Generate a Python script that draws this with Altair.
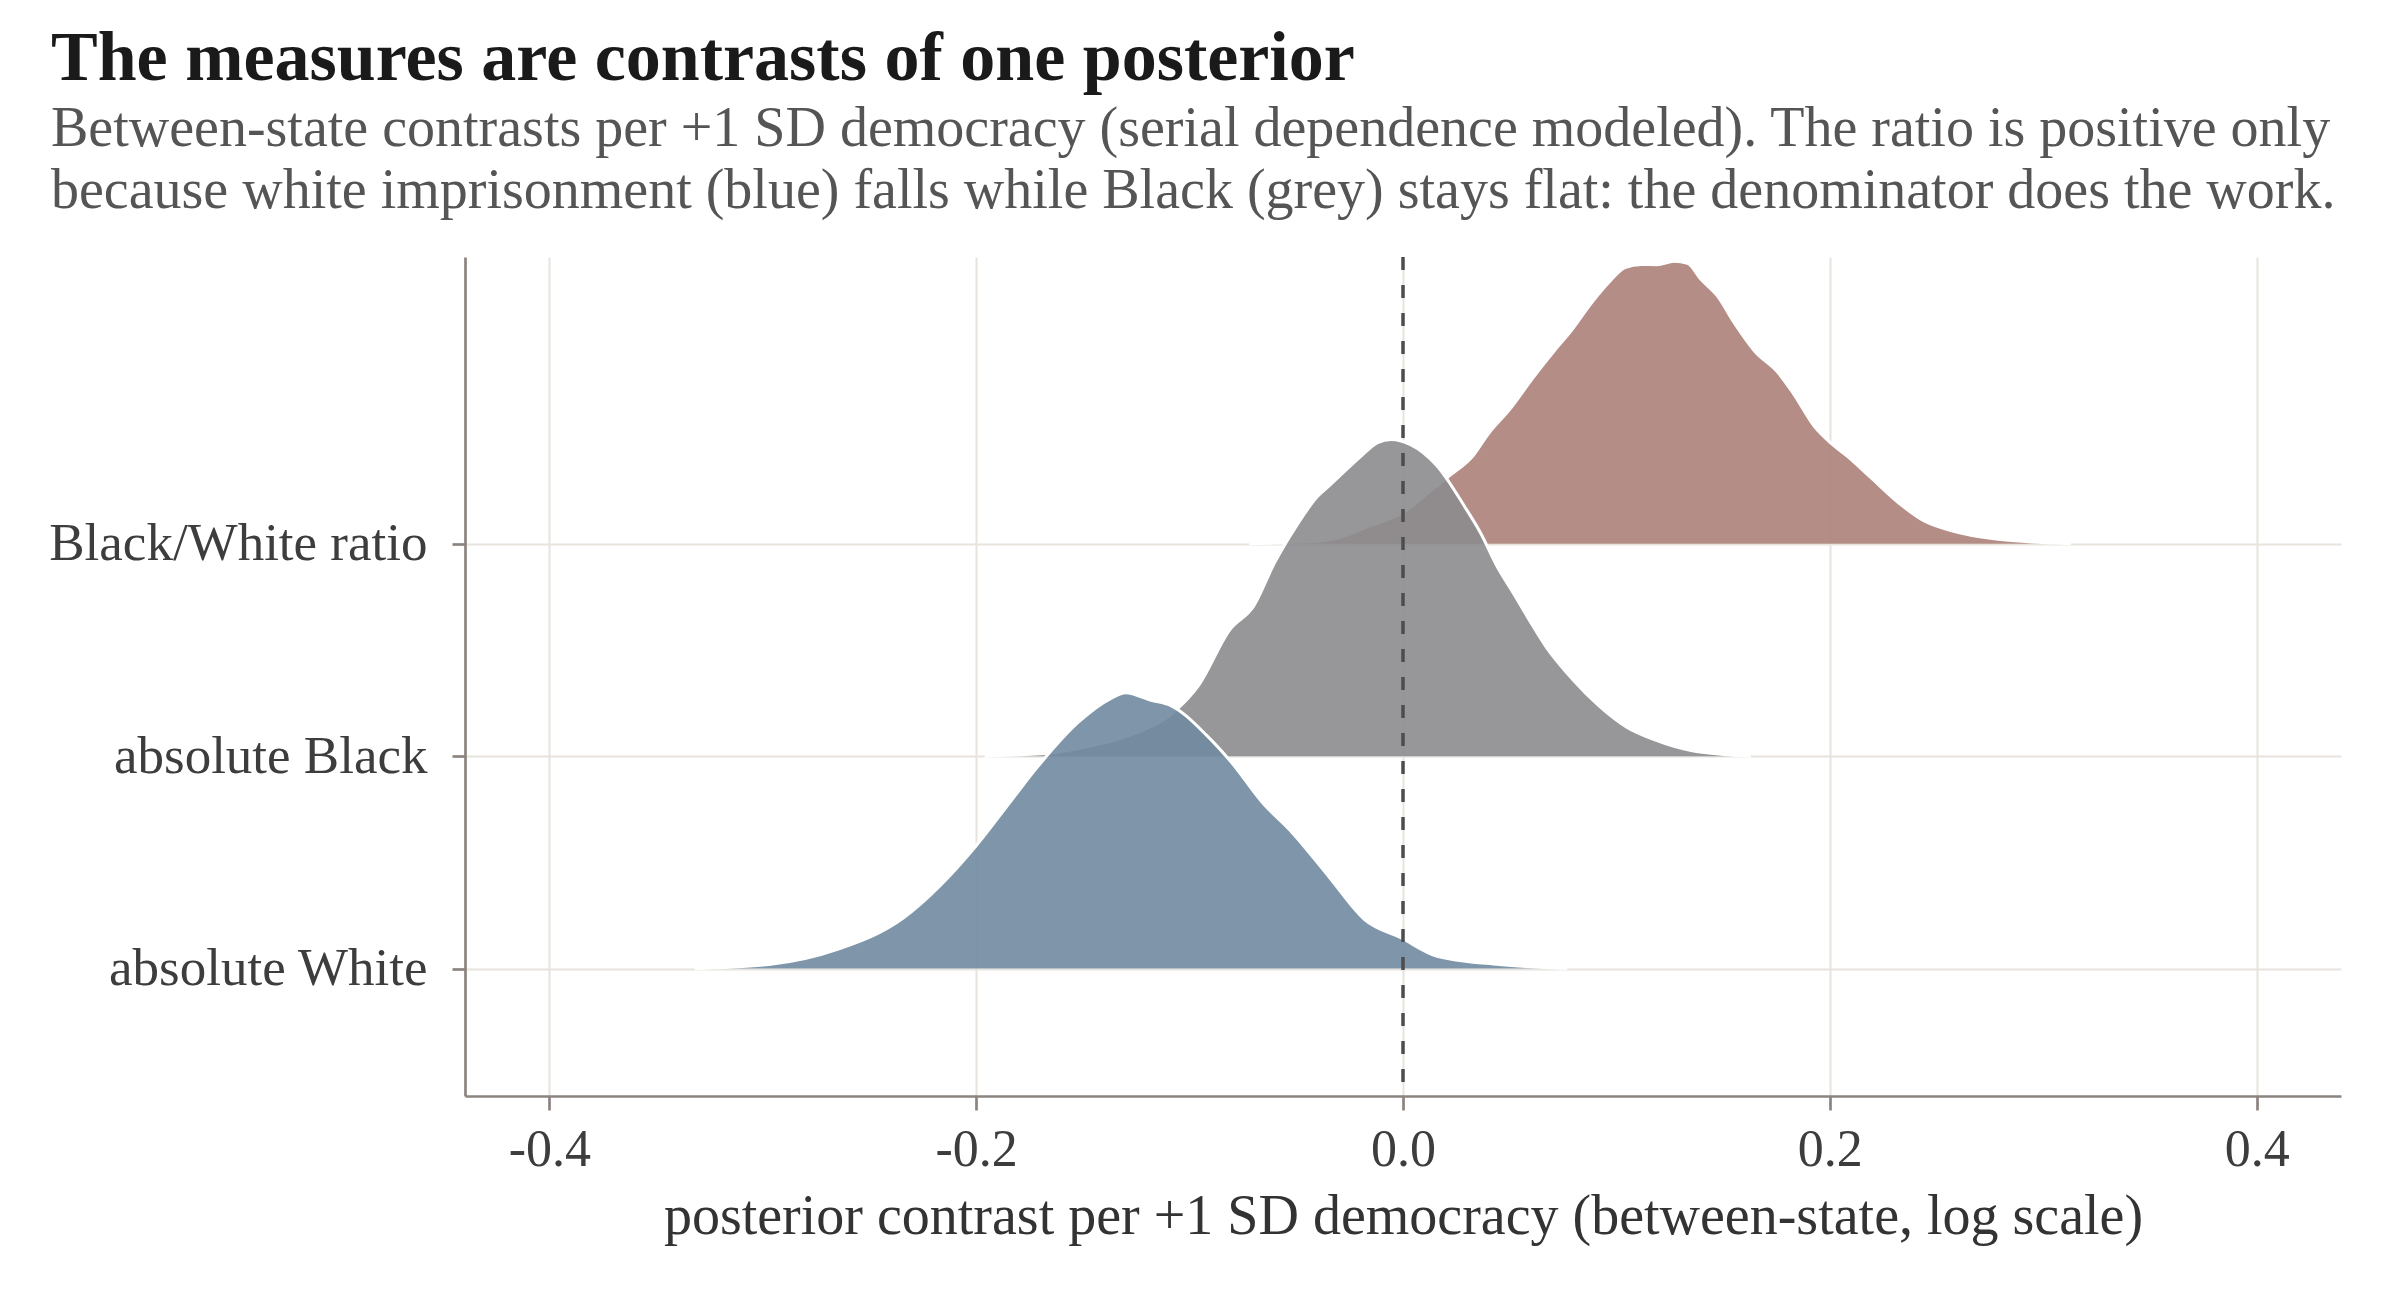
import altair as alt
import pandas as pd

# ---- data ----
categories = ["absolute White", "absolute Black", "Black/White ratio"]
row_pos = [1, 2, 3]

ratio_x = [-0.072, -0.0486, -0.0333, -0.0155, 0.0, 0.0099, 0.0214, 0.0328, 0.040, 0.0506,
           0.0608, 0.071, 0.0786, 0.0888, 0.0964, 0.104, 0.1117, 0.119, 0.127, 0.1333,
           0.1397, 0.1473, 0.155, 0.165, 0.1753, 0.183, 0.193, 0.2008, 0.2084, 0.2186,
           0.234, 0.244, 0.2567, 0.277, 0.313]
ratio_h = [0.0, 0.008, 0.020, 0.085, 0.147, 0.224, 0.317, 0.414, 0.518, 0.64,
           0.78, 0.91, 1.0, 1.14, 1.23, 1.30, 1.315, 1.314, 1.33, 1.32,
           1.244, 1.167, 1.043, 0.904, 0.811, 0.706, 0.549, 0.471, 0.410, 0.317,
           0.178, 0.108, 0.062, 0.023, 0.0]

black_x = [-0.196, -0.164, -0.147, -0.129, -0.106, -0.096, -0.081, -0.070, -0.0602, -0.050,
           -0.040, -0.0348, -0.0196, -0.0119, -0.0056, 0.0033, 0.016, 0.0287, 0.0363, 0.044,
           0.0516, 0.059, 0.0668, 0.0795, 0.092, 0.105, 0.1177, 0.135, 0.163]
black_h = [0.0, 0.016, 0.047, 0.094, 0.22, 0.33, 0.597, 0.706, 0.91, 1.083,
           1.224, 1.271, 1.413, 1.476, 1.491, 1.468, 1.366, 1.178, 1.052, 0.895,
           0.769, 0.644, 0.518, 0.361, 0.235, 0.135, 0.078, 0.027, 0.0]

white_x = [-0.332, -0.297, -0.265, -0.234, -0.217, -0.2, -0.183, -0.172, -0.152, -0.137,
           -0.130, -0.118, -0.109, -0.092, -0.0805, -0.066, -0.052, -0.035, -0.018, -0.001,
           0.016, 0.045, 0.077]
white_h = [0.0, 0.019, 0.09, 0.239, 0.389, 0.578, 0.798, 0.94, 1.161, 1.271,
           1.299, 1.263, 1.239, 1.098, 0.972, 0.783, 0.641, 0.436, 0.231, 0.145,
           0.058, 0.019, 0.0]

series_colors = {"Black/White ratio": "#ac817a",
                 "absolute Black": "#8c8c8f",
                 "absolute White": "#7189a0"}
x_ticks = [-0.4, -0.2, 0.0, 0.2, 0.4]
ref_line = [0.0]

title_text = "The measures are contrasts of one posterior"
subtitle_lines = [
    "Between-state contrasts per +1 SD democracy (serial dependence modeled). The ratio is positive only",
    "because white imprisonment (blue) falls while Black (grey) stays flat: the denominator does the work.",
]
x_title = "posterior contrast per +1 SD democracy (between-state, log scale)"

# ---- build table ----
rows = []
for name, pos, xs, hs in [
    ("Black/White ratio", 3, ratio_x, ratio_h),
    ("absolute Black", 2, black_x, black_h),
    ("absolute White", 1, white_x, white_h),
]:
    for x, h in zip(xs, hs):
        rows.append({"series": name, "x": x, "base": pos, "top": pos + h})
df = pd.DataFrame(rows)

FONT = "Liberation Serif"
W, H = 1876, 839
axis_col = "#8c847f"
grid_col = "#e8e3dc"

xscale = alt.Scale(domain=[-0.4395, 0.4395], nice=False, zero=False)
yscale = alt.Scale(domain=[0.4, 4.35], nice=False, zero=False)

label_map = "{" + ",".join(f"{p}:'{c}'" for p, c in zip(row_pos, categories)) + "}"

xaxis = alt.Axis(
    values=x_ticks,
    labelExpr="datum.value < 0 ? '-' + format(-datum.value, '.1f') : format(datum.value, '.1f')",
    title=x_title,
    grid=True, gridColor=grid_col, gridWidth=2,
    domainColor=axis_col, domainWidth=2.7,
    tickColor=axis_col, tickWidth=2.7, tickSize=14,
    labelFont=FONT, labelFontSize=52, labelColor="#3d3d3d", labelPadding=14,
    titleFont=FONT, titleFontSize=56, titleColor="#333333", titlePadding=14,
    titleFontWeight="normal",
)
yaxis = alt.Axis(
    values=row_pos,
    labelExpr=label_map + "[datum.value]",
    title=None,
    grid=True, gridColor=grid_col, gridWidth=2,
    domainColor=axis_col, domainWidth=2.7,
    tickColor=axis_col, tickWidth=2.7, tickSize=13,
    labelFont=FONT, labelFontSize=53, labelColor="#3d3d3d", labelPadding=25,
    labelLimit=800,
)

base = alt.Chart(df)
layers = []
first = True
for name in ["Black/White ratio", "absolute Black", "absolute White"]:
    sub = base.transform_filter(alt.datum.series == name)
    if first:
        enc_x = alt.X("x:Q", scale=xscale, axis=xaxis)
        enc_y = alt.Y("top:Q", scale=yscale, axis=yaxis)
        first = False
    else:
        enc_x = alt.X("x:Q", scale=xscale)
        enc_y = alt.Y("top:Q", scale=yscale)
    area = sub.mark_area(interpolate="monotone", color=series_colors[name], opacity=0.9).encode(
        x=enc_x, y=enc_y, y2="base:Q"
    )
    outline = sub.mark_line(interpolate="monotone", color="white", strokeWidth=3).encode(
        x=alt.X("x:Q", scale=xscale), y=alt.Y("top:Q", scale=yscale)
    )
    layers += [area, outline]

rule = alt.Chart(pd.DataFrame({"x": ref_line})).mark_rule(
    color="#4d4d4d", strokeDash=[13, 15], strokeWidth=3.5
).encode(x=alt.X("x:Q", scale=xscale))
layers.append(rule)

chart = alt.layer(*layers).properties(
    width=W, height=H,
    autosize=alt.AutoSizeParams(type="none"),
    padding={"left": 457, "top": 249, "right": 40, "bottom": 180},
    background="white",
    title=alt.Title(
        text=title_text,
        subtitle=subtitle_lines,
        anchor="start", frame="group", dx=-414,
        font=FONT, fontSize=70, fontWeight="bold", color="#1a1a1a",
        subtitleFont=FONT, subtitleFontSize=56, subtitleColor="#555555",
        subtitleLineHeight=62, subtitlePadding=7, offset=35,
    ),
).configure_view(stroke=None)

chart.save("out.html", embed_options={"renderer": "svg", "actions": False})
